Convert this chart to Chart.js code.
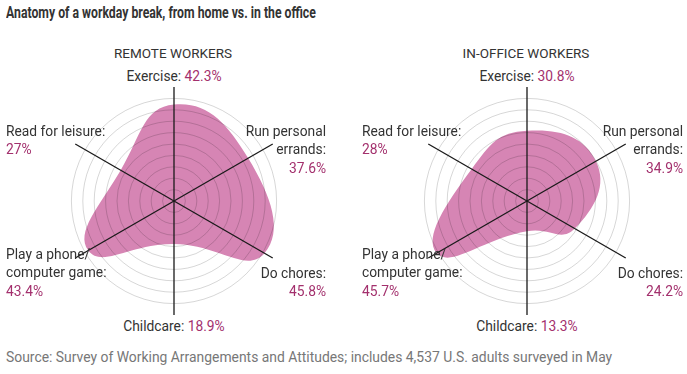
<!DOCTYPE html>
<html>
<head>
<meta charset="utf-8">
<script src="https://cdn.jsdelivr.net/npm/chart.js@4"></script>
<style>
  html, body { margin: 0; padding: 0; background: #fff; }
  body { width: 687px; height: 374px; position: relative; overflow: hidden;
         font-family: "Roboto", "Liberation Sans", sans-serif; color: #333; }
  #title { position: absolute; left: 6px; top: 2px; font-size: 17px; font-weight: bold; color: #333; white-space: nowrap;
           transform: scaleX(0.72); transform-origin: 0 0; }
  .sub { position: absolute; top: 45px; font-size: 13.5px; color: #333; transform: translateX(-50%); white-space: nowrap; }
  .lbl { position: absolute; font-size: 13.8px; line-height: 18.5px; white-space: nowrap; color: #333; }
  .val { color: #a3306d; }
  #source { position: absolute; left: 6px; top: 349px; font-size: 13.9px; color: #777; white-space: nowrap; }
  .wrap { position: absolute; width: 228px; height: 228px; }
</style>
</head>
<body>
<div id="title">Anatomy of a workday break, from home vs. in the office</div>
<div class="sub" style="left:173px">REMOTE WORKERS</div>
<div class="sub" style="left:526px">IN-OFFICE WORKERS</div>
<div class="wrap" style="left:60px;top:87px"><canvas id="remote"></canvas></div>
<div class="wrap" style="left:413px;top:87px"><canvas id="office"></canvas></div>
<div id="source">Source: Survey of Working Arrangements and Attitudes; includes 4,537 U.S. adults surveyed in May</div>
<script>
// ---- data ----
const categories = [["Exercise:"], ["Run personal", "errands:"], ["Do chores:"], ["Childcare:"], ["Play a phone/", "computer game:"], ["Read for leisure:"]];
const remoteValues = [42.3, 37.6, 45.8, 18.9, 43.4, 27];
const officeValues = [30.8, 34.9, 24.2, 13.3, 45.7, 28];
const scaleTicks = [0, 5, 10, 15, 20, 25, 30, 35, 40, 45, 50];

// ---- styles ----
const FILL = 'rgb(214,133,180)';
const labelLayout = [
  { align: 'center', dy: -124.5, inline: true },
  { align: 'right', dy: -70 },
  { align: 'right', dy: 72 },
  { align: 'center', dy: 125.5, inline: true },
  { align: 'left', dy: 53 },
  { align: 'left', dy: -70 }
];

function makeChart(id, values, dxLeft, dxRight) {
  const canvas = document.getElementById(id);
  const chart = new Chart(canvas, {
    type: 'radar',
    data: {
      labels: categories.map(c => c.join(' ')),
      datasets: [{
        data: values,
        backgroundColor: FILL,
        borderWidth: 0,
        fill: true,
        tension: 0.5,
        pointRadius: 0,
        pointHoverRadius: 0
      }]
    },
    options: {
      responsive: true,
      maintainAspectRatio: false,
      animation: false,
      events: [],
      plugins: { legend: { display: false }, tooltip: { enabled: false } },
      layout: { padding: 0 },
      scales: {
        r: {
          min: scaleTicks[0],
          max: scaleTicks[scaleTicks.length - 1],
          ticks: { display: false, stepSize: scaleTicks[1] - scaleTicks[0] },
          pointLabels: { display: false },
          grid: {
            z: 1,
            circular: true,
            lineWidth: 1,
            color: (ctx) => (ctx.tick && ctx.tick.value === scaleTicks[scaleTicks.length - 1]) ? 'rgba(0,0,0,0)' : 'rgba(0,0,0,0.16)'
          },
          angleLines: { color: '#1a1a1a', lineWidth: 1.3 }
        }
      }
    }
  });
  // labels positioned from the scale's center
  const scale = chart.scales.r;
  const rect = canvas.parentNode;
  const cx = rect.offsetLeft + scale.xCenter;
  const cy = rect.offsetTop + scale.yCenter;
  categories.forEach((lines, i) => {
    const L = labelLayout[i];
    const div = document.createElement('div');
    div.className = 'lbl';
    const valTxt = values[i] + '%';
    if (L.inline) {
      div.innerHTML = lines[0] + ' <span class="val">' + valTxt + '</span>';
    } else {
      div.innerHTML = lines.join('<br>') + '<br><span class="val">' + valTxt + '</span>';
    }
    div.style.top = (cy + L.dy - 9.25) + 'px';
    if (L.align === 'center') {
      div.style.left = cx + 'px';
      div.style.transform = 'translateX(-50%)';
    } else if (L.align === 'right') {
      div.style.right = (687 - (cx + dxRight)) + 'px';
      div.style.textAlign = 'right';
    } else {
      div.style.left = (cx + dxLeft) + 'px';
      div.style.textAlign = 'left';
    }
    document.body.appendChild(div);
  });
  return chart;
}

makeChart('remote', remoteValues, -168, 152);
makeChart('office', officeValues, -165, 156);
</script>
</body>
</html>
